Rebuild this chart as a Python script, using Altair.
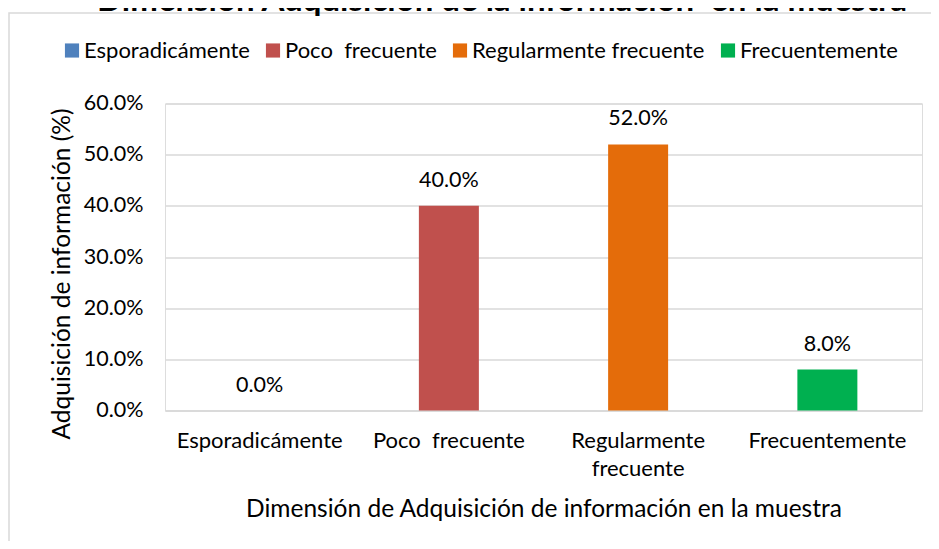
import altair as alt
import pandas as pd

categories = ["Esporadicámente", "Poco  frecuente", "Regularmente frecuente", "Frecuentemente"]
values = [0.0, 0.40, 0.52, 0.08]
colors = ["#4F81BD", "#C0504D", "#E46C0A", "#00B050"]

chart_title = "Dimensión Adquisición de la información  en la muestra"
x_title = "Dimensión de Adquisición de información en la muestra"
y_title = "Adquisición de información (%)"
y_ticks = [0.0, 0.1, 0.2, 0.3, 0.4, 0.5, 0.6]

FONT = "Lato"
FS = 22
TFS = 24.5

df = pd.DataFrame({"categoria": categories, "valor": values})

nb = "\u00a0"
x_label_expr = (
    "datum.label == 'Regularmente frecuente' ? ['Regularmente', 'frecuente'] : "
    f"replace(datum.label, '  ', '{nb} ')"
)
legend_label_expr = f"replace(datum.label, '  ', '{nb} ')"

base = alt.Chart(df)

bars = base.mark_bar().encode(
    x=alt.X(
        "categoria:N",
        sort=categories,
        scale=alt.Scale(paddingInner=0.683, paddingOuter=0.3415),
        axis=alt.Axis(
            title=x_title,
            labelAngle=0,
            labelExpr=x_label_expr,
            labelFontSize=FS,
            labelFont=FONT,
            labelColor="#000000",
            labelPadding=20,
            labelLineHeight=28,
            labelLimit=0,
            ticks=False,
            domain=True,
            domainColor="#D9D9D9",
            domainWidth=1.5,
            titleFontSize=TFS,
            titleFont=FONT,
            titleFontWeight="normal",
            titleColor="#000000",
            titlePadding=18,
        ),
    ),
    y=alt.Y(
        "valor:Q",
        scale=alt.Scale(domain=[0, 0.6], nice=False),
        axis=alt.Axis(
            title=y_title,
            values=y_ticks,
            format=".1%",
            labelFontSize=21.5,
            labelFont=FONT,
            labelColor="#000000",
            labelPadding=22,
            ticks=False,
            domain=False,
            grid=True,
            gridColor="#D9D9D9",
            gridWidth=1.5,
            titleFontSize=TFS,
            titleFont=FONT,
            titleFontWeight="normal",
            titleColor="#000000",
            titleAngle=-90,
            titleBaseline="alphabetic",
            titleX=-96,
            titleY=170,
            titleAlign="center",
        ),
    ),
    color=alt.Color(
        "categoria:N",
        sort=categories,
        scale=alt.Scale(domain=categories, range=colors),
        legend=alt.Legend(
            title=None,
            orient="none",
            direction="horizontal",
            legendX=-104,
            legendY=-64,
            symbolType="square",
            symbolSize=200,
            symbolStrokeWidth=0,
            labelFont=FONT,
            labelFontSize=FS,
            labelColor="#000000",
            labelOffset=1,
            labelLimit=0,
            columnPadding=12,
            labelExpr=legend_label_expr,
            padding=0,
        ),
    ),
)

labels = base.mark_text(
    baseline="middle", dy=-25, font=FONT, fontSize=21.5, color="#000000"
).encode(
    x=alt.X("categoria:N", sort=categories),
    y="valor:Q",
    text=alt.Text("valor:Q", format=".1%"),
)

border = alt.Chart(alt.Data(values=[{"b": 1}])).mark_rect(
    fill=None, stroke="#D9D9D9", strokeWidth=1.5
).encode(
    x=alt.value(-156), x2=alt.value(800), y=alt.value(-90.5), y2=alt.value(470)
)

title_mark = alt.Chart(alt.Data(values=[{"t": chart_title.replace("  ", nb + " ")}])).mark_text(
    font=FONT, fontSize=33, fontWeight="bold", baseline="alphabetic", align="center",
    color="#000000"
).encode(
    x=alt.value(337), y=alt.value(-93), text="t:N"
)

chart = alt.layer(border, bars, labels, title_mark).properties(
    width=757,
    height=307,
    autosize=alt.AutoSizeParams(type="none"),
    padding={"left": 157, "top": 95.5, "right": 9, "bottom": 130},
).configure_view(stroke=None).configure(background="#FFFFFF")

chart.save("out.html", embed_options={"renderer": "svg", "actions": False})
